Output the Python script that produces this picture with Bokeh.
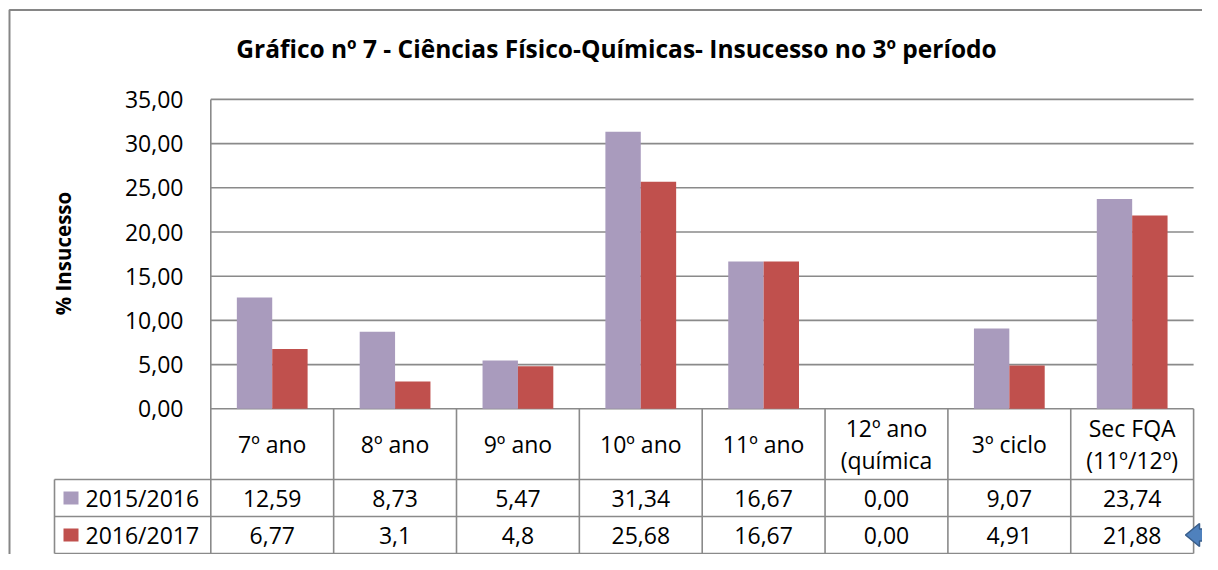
import math
from bokeh.plotting import figure
from bokeh.models import Range1d
from bokeh.core.properties import value
from bokeh.embed import file_html
from bokeh.resources import INLINE

# ---------------- data ----------------
title = "Gráfico nº 7 - Ciências Físico-Químicas- Insucesso no 3º período"
y_label = "% Insucesso"
categories = ["7º ano", "8º ano", "9º ano", "10º ano", "11º ano",
              "12º ano\n(química", "3º ciclo", "Sec FQA\n(11º/12º)"]
series_names = ["2015/2016", "2016/2017"]
values_2015 = [12.59, 8.73, 5.47, 31.34, 16.67, 0.00, 9.07, 23.74]
values_2016 = [6.77, 3.1, 4.8, 25.68, 16.67, 0.00, 4.91, 21.88]
labels_2015 = ["12,59", "8,73", "5,47", "31,34", "16,67", "0,00", "9,07", "23,74"]
labels_2016 = ["6,77", "3,1", "4,8", "25,68", "16,67", "0,00", "4,91", "21,88"]
y_ticks = [0, 5, 10, 15, 20, 25, 30, 35]
colors = ["#A99BBD", "#C0504D"]

# ---------------- layout (pixels on the canvas) ----------------
W, H = 1202, 554
X0 = 210.3      # left edge of category axis
CW = 122.85     # width of one category
Y0 = 408.3      # pixel row of value 0
PPU = 8.84      # pixels per value unit
ROW_Y = [479, 516, 553]   # header bottom, row1 bottom, row2 bottom
LEG_LEFT = 54
GRID = "#8a8a8a"
FONT = value("Open Sans")
FS = value("23px")


def ux(cx):
    return (cx - X0) / CW


def uy(cy):
    return (Y0 - cy) / PPU


n = len(categories)
centers = [i + 0.5 for i in range(n)]
bw = 0.288

p = figure(width=W, height=H, output_backend="svg", toolbar_location=None,
           x_range=Range1d(ux(0), ux(W)), y_range=Range1d(uy(H), uy(0)),
           x_axis_location=None, y_axis_location=None, min_border=0)
p.grid.visible = False
p.outline_line_color = None
p.background_fill_color = "white"
p.border_fill_color = "white"

# gridlines
p.segment(x0=0, x1=n, y0=y_ticks, y1=y_ticks, line_color=GRID, line_width=1.6)

# bars
p.vbar(x=[c - bw / 2 for c in centers], top=values_2015, bottom=0, width=bw,
       fill_color=colors[0], line_color=None)
p.vbar(x=[c + bw / 2 for c in centers], top=values_2016, bottom=0, width=bw,
       fill_color=colors[1], line_color=None)

# y tick labels
p.text(x=ux(183), y=y_ticks, text=[f"{t:.2f}".replace(".", ",") for t in y_ticks],
       text_align="right", text_baseline="middle", text_font=FONT,
       text_font_size=FS, text_color="black")

# table lines
row_vals = [uy(r) for r in ROW_Y]
p.segment(x0=ux(LEG_LEFT), x1=n, y0=row_vals, y1=row_vals, line_color=GRID, line_width=1.6)
p.segment(x0=list(range(1, n + 1)), x1=list(range(1, n + 1)), y0=0, y1=row_vals[-1],
          line_color=GRID, line_width=1.6)
p.segment(x0=[0], x1=[0], y0=[y_ticks[-1]], y1=[row_vals[-1]], line_color=GRID, line_width=1.6)
p.segment(x0=[ux(LEG_LEFT)], x1=[ux(LEG_LEFT)], y0=[row_vals[0]], y1=[row_vals[-1]],
          line_color=GRID, line_width=1.6)

# category labels
p.text(x=centers, y=uy((Y0 + ROW_Y[0]) / 2), text=categories, text_align="center",
       text_baseline="middle", text_font=FONT, text_font_size=FS,
       text_line_height=1.02, text_color="black")

# values in table
r1 = uy((ROW_Y[0] + ROW_Y[1]) / 2)
r2 = uy((ROW_Y[1] + ROW_Y[2]) / 2)
p.text(x=centers, y=r1, text=labels_2015, text_align="center", text_baseline="middle",
       text_font=FONT, text_font_size=FS, text_color="black")
p.text(x=centers, y=r2, text=labels_2016, text_align="center", text_baseline="middle",
       text_font=FONT, text_font_size=FS, text_color="black")

# legend keys
p.rect(x=ux(70.5), y=[r1, r2], width=15 / CW, height=13 / PPU, fill_color=colors,
       line_color=None)
p.text(x=ux(85), y=[r1, r2], text=series_names, text_align="left", text_baseline="middle",
       text_font=FONT, text_font_size=FS, text_color="black")

# title and y label
p.text(x=ux(616), y=uy(48), text=[title], text_align="center", text_baseline="middle",
       text_font=FONT, text_font_size=value("24.5px"), text_font_style="bold",
       text_color="black")
p.text(x=ux(62), y=uy(253), text=[y_label], angle=math.pi / 2, text_align="center",
       text_baseline="middle", text_font=FONT, text_font_size=value("20.5px"),
       text_font_style="bold", text_color="black")

# chart border (left and top visible)
p.line(x=[ux(9), ux(9), ux(W)], y=[uy(H), uy(9.5), uy(9.5)], line_color="#868686",
       line_width=2)

# blue arrow pointing at the last row
cy = (ROW_Y[1] + ROW_Y[2]) / 2
ax = [1185, 1199, 1199, 1210, 1210, 1199, 1199]
ay = [cy, cy - 11.5, cy - 6, cy - 6, cy + 6, cy + 6, cy + 11.5]
p.patch(x=[ux(v) for v in ax], y=[uy(v) for v in ay], fill_color="#4F81BD",
        line_color="#385D8A", line_width=1.5)

open("out.html", "w").write(file_html(p, INLINE))
